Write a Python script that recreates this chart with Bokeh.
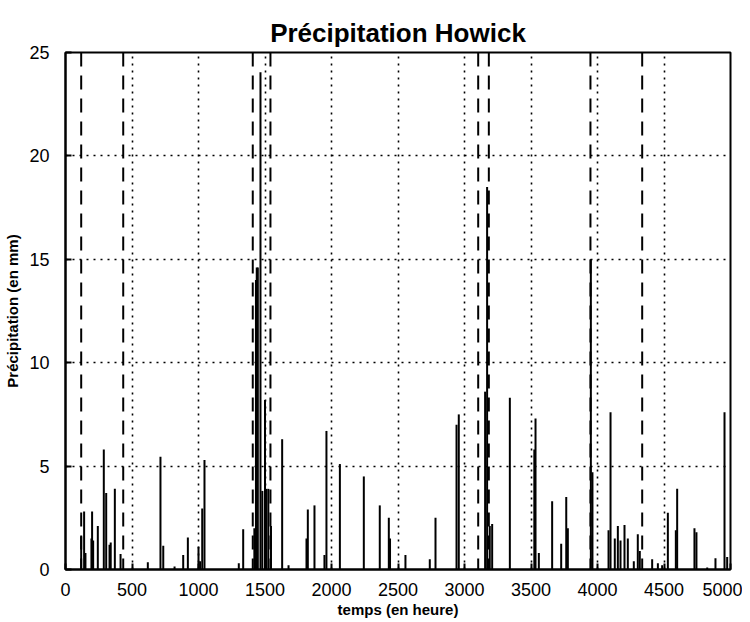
from bokeh.plotting import figure
from bokeh.models import ColumnDataSource, Span, SingleIntervalTicker
from bokeh.embed import file_html
from bokeh.resources import INLINE

# Rainfall spikes (hour, mm)
hours = [118, 140, 150, 195, 200, 208, 243, 288, 306, 331, 340, 371, 414,
         619, 714, 735, 820, 885, 920, 1000, 1012, 1028, 1045, 1303, 1336,
         1420, 1432, 1438, 1446, 1466, 1480, 1500, 1510, 1525, 1545, 1629, 1677,
         1812, 1822, 1872, 1947, 1962, 2063, 2243, 2363, 2431, 2440, 2556,
         2739, 2782, 2940, 2957, 3155, 3170, 3190, 3208, 3341, 3525, 3534,
         3559, 3659, 3727, 3765, 3777, 3950, 3962, 4083, 4098, 4130, 4153,
         4173, 4203, 4228, 4273, 4303, 4318, 4411, 4454, 4486, 4529, 4589,
         4599, 4729, 4744, 4825, 4887, 4955, 4975]
precip = [1.6, 2.8, 0.8, 1.5, 2.8, 1.4, 2.1, 5.8, 3.7, 1.2, 1.3, 3.9, 0.75,
          0.35, 5.45, 1.15, 0.15, 0.7, 1.55, 1.1, 0.4, 2.95, 5.3, 0.3, 1.95,
          2.0, 14.0, 14.6, 14.6, 24.05, 3.8, 8.2, 3.9, 3.9, 2.1, 6.3, 0.2,
          1.5, 2.9, 3.1, 0.7, 6.7, 5.1, 4.5, 3.1, 2.5, 1.5, 0.7,
          0.5, 2.5, 7.0, 7.5, 8.6, 18.5, 2.1, 2.2, 8.3, 5.8, 7.3,
          0.8, 3.3, 1.25, 3.5, 2.0, 15.0, 4.7, 1.9, 7.6, 1.5, 2.1,
          1.4, 2.15, 1.5, 0.4, 1.7, 0.9, 0.5, 0.3, 0.2, 2.75, 1.9,
          3.9, 2.0, 1.8, 0.1, 0.55, 7.6, 0.6]

# Event boundaries (dashed vertical lines), hours
event_bounds = [118, 434, 1408, 1541, 3103, 3183, 3947, 4336]

FONT = "Liberation Sans"

p = figure(width=742, height=620, x_range=(0, 5000), y_range=(0, 25),
           output_backend="svg", toolbar_location=None,
           min_border_left=65, min_border_right=12, min_border_top=52,
           min_border_bottom=49, background_fill_color="white",
           border_fill_color="white")

p.title.text = "Précipitation Howick"
p.title.align = "center"
p.title.text_font = FONT
p.title.text_font_size = "26px"
p.title.text_font_style = "bold"
p.title.text_color = "black"

src = ColumnDataSource(dict(h=hours, v=precip))
p.segment(x0="h", y0=0, x1="h", y1="v", source=src, line_color="black", line_width=2)

for xb in event_bounds:
    p.add_layout(Span(location=xb, dimension="height", line_color="black",
                      line_width=2, line_dash="14 9"))

p.xaxis.ticker = SingleIntervalTicker(interval=500)
p.yaxis.ticker = SingleIntervalTicker(interval=5)

for ax in (p.xaxis[0], p.yaxis[0]):
    ax.major_tick_in = 6
    ax.major_tick_out = 0
    ax.minor_tick_line_color = None
    ax.axis_line_color = "black"
    ax.axis_line_width = 2
    ax.major_tick_line_color = "black"
    ax.major_tick_line_width = 2
    ax.major_label_text_font = FONT
    ax.major_label_text_font_size = "18px"
    ax.major_label_text_color = "black"
    ax.axis_label_text_font = FONT
    ax.axis_label_text_font_size = "15px"
    ax.axis_label_text_font_style = "bold"
    ax.axis_label_text_color = "black"

p.xaxis.major_label_standoff = 9
p.yaxis.major_label_standoff = 12
p.xaxis.axis_label = "temps (en heure)"
p.yaxis.axis_label = "Précipitation (en mm)"
p.xaxis.axis_label_standoff = 2
p.yaxis.axis_label_standoff = 5

for g in (p.xgrid[0], p.ygrid[0]):
    g.grid_line_color = "black"
    g.grid_line_dash = "2 5"
    g.grid_line_width = 1.6

p.outline_line_color = "black"
p.outline_line_width = 2

open("out.html", "w").write(file_html(p, INLINE))
